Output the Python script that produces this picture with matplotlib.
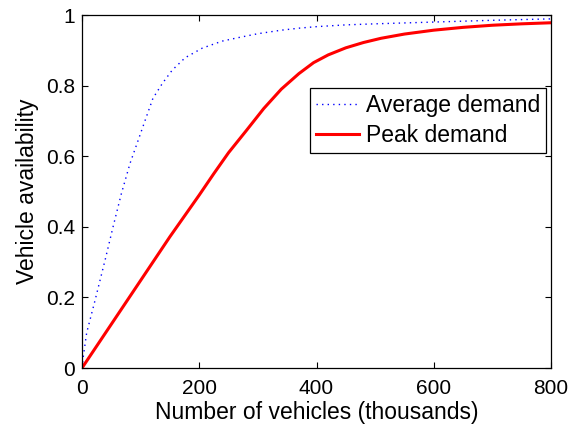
import matplotlib
matplotlib.use("Agg")
import matplotlib.pyplot as plt

plt.rcParams['font.family'] = ['Liberation Sans', 'DejaVu Sans']

# Data
avg_x = [0, 2, 8, 22, 40, 53, 67, 82, 96, 108, 121, 137, 154, 176, 205, 239, 267,
         300, 340, 372, 400, 450, 500, 600, 700, 800]
avg_y = [0, 0.03, 0.10, 0.19, 0.31, 0.40, 0.493, 0.58, 0.646, 0.703, 0.764, 0.806,
         0.844, 0.879, 0.906, 0.926, 0.936, 0.947, 0.957, 0.963, 0.967, 0.972,
         0.975, 0.980, 0.985, 0.989]

peak_x = [0, 50, 100, 150, 200, 225, 250, 280, 310, 340, 370, 395, 420, 450, 480, 510,
          550, 600, 650, 700, 750, 800]
peak_y = [0, 0.124, 0.248, 0.372, 0.49, 0.551, 0.61, 0.672, 0.735, 0.79, 0.834, 0.865,
          0.887, 0.907, 0.922, 0.934, 0.946, 0.957, 0.965, 0.971, 0.975, 0.978]

xticks = [0, 200, 400, 600, 800]
yticks = [0, 0.2, 0.4, 0.6, 0.8, 1]
ytick_labels = ['0', '0.2', '0.4', '0.6', '0.8', '1']

fig = plt.figure(figsize=(5.8, 4.24), dpi=100)
ax = fig.add_axes([82/580, 1-368/424, (551-82)/580, (368-15)/424])

ax.plot(avg_x, avg_y, color=(0, 0, 1), linewidth=1.0, linestyle=(0, (1, 3)),
        label='Average demand')
ax.plot(peak_x, peak_y, color=(1, 0, 0), linewidth=2.2, label='Peak demand')

ax.set_xlim(0, 800)
ax.set_ylim(0, 1)
ax.set_xticks(xticks)
ax.set_yticks(yticks)
ax.set_yticklabels(ytick_labels)
ax.tick_params(direction='in', length=4, width=0.8, top=True, right=True,
               labelsize=15)
ax.tick_params(axis='x', pad=8)
ax.tick_params(axis='y', pad=5)
for s in ax.spines.values():
    s.set_linewidth(0.9)

ax.set_xlabel('Number of vehicles (thousands)', fontsize=16.5, labelpad=2)
ax.set_ylabel('Vehicle availability', fontsize=16.5, labelpad=5)

leg = ax.legend(loc='upper right', bbox_to_anchor=(546/580, 1-88/424),
                bbox_transform=fig.transFigure, fontsize=16.5, frameon=True,
                fancybox=False, edgecolor='black', framealpha=1,
                handlelength=1.9, borderpad=0.25, labelspacing=0.32,
                handletextpad=0.3, borderaxespad=0)
leg.get_frame().set_linewidth(0.9)

fig.savefig('out.png', dpi=100)
